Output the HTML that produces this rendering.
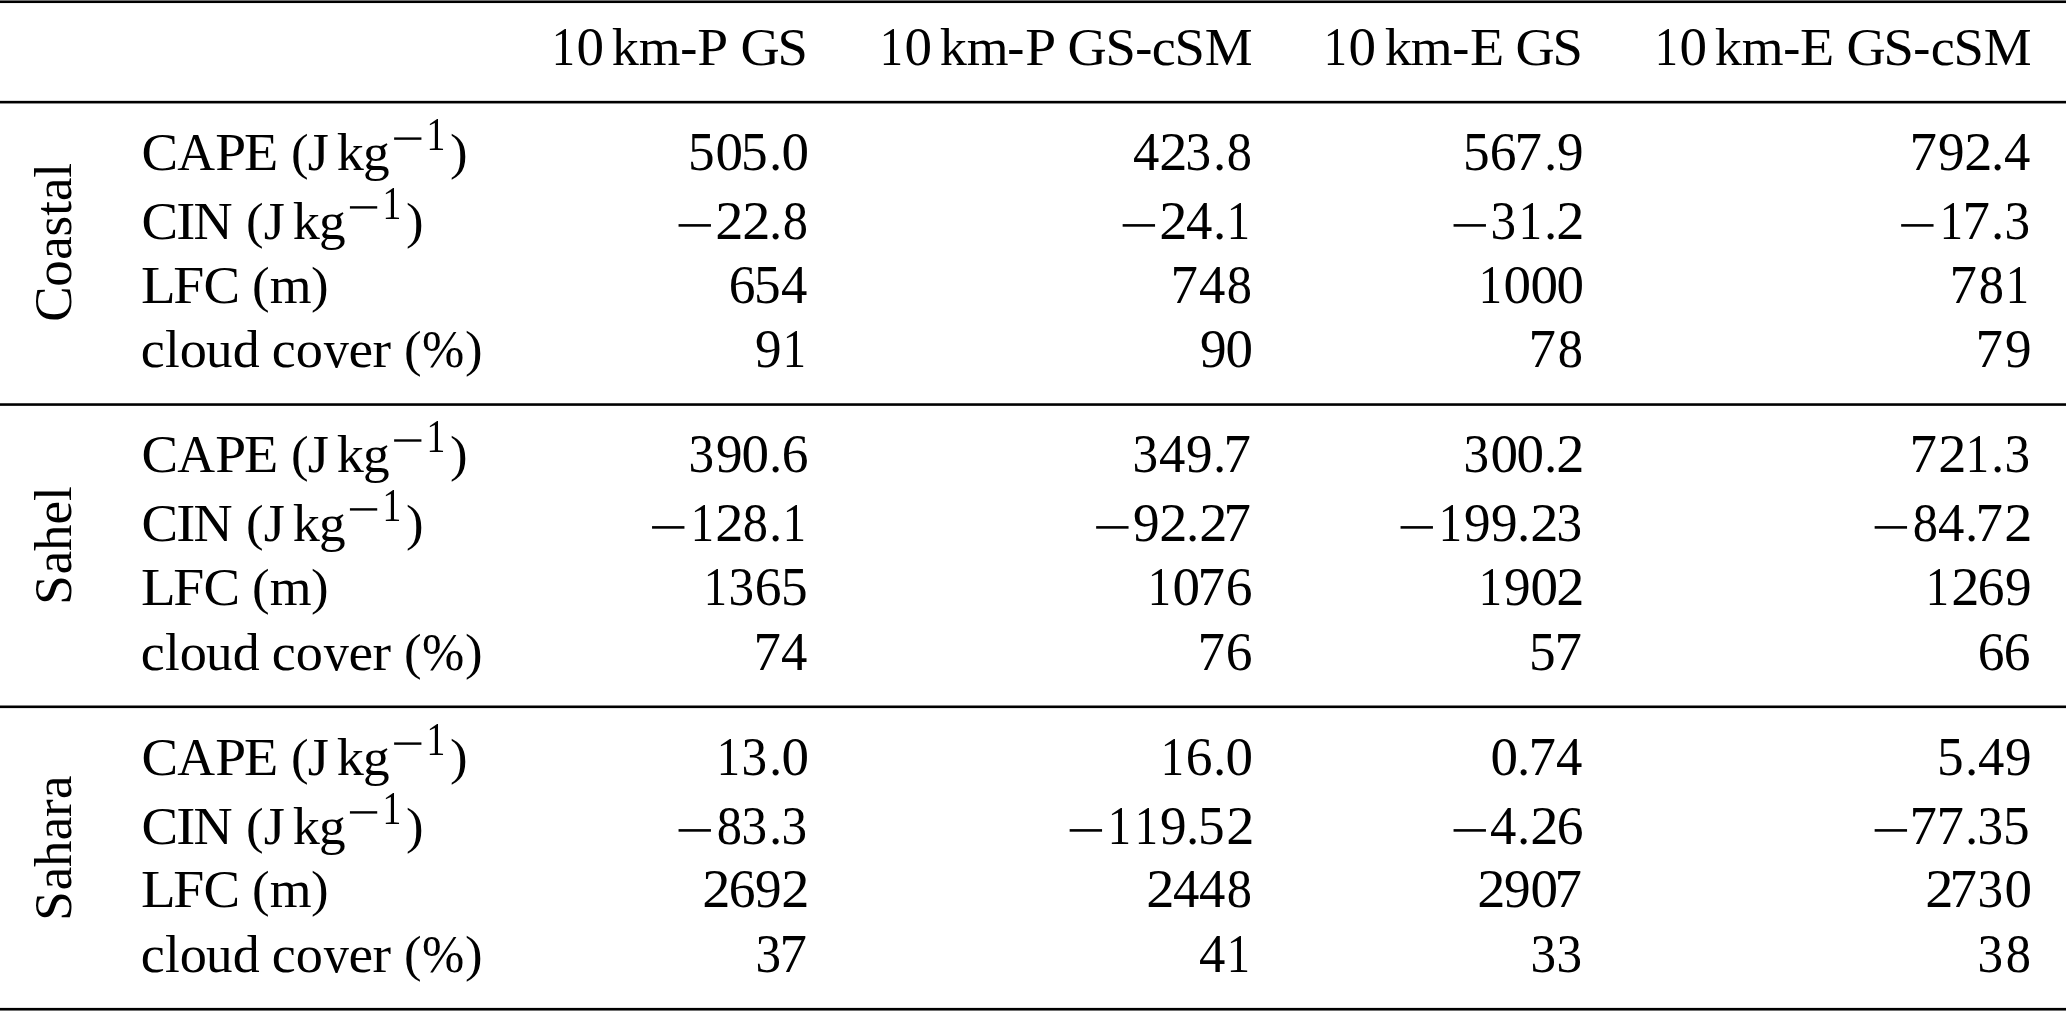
<!DOCTYPE html>
<html><head><meta charset="utf-8"><title>Table</title><style>
html,body{margin:0;padding:0;background:#fff;}
body{width:2067px;height:1011px;position:relative;overflow:hidden;}
#c{position:absolute;left:0;top:0;width:2067px;height:1011px;will-change:transform;}
#c svg{position:absolute;left:0;top:0;fill:#000;}
i{position:absolute;font-style:normal;font-family:"Liberation Serif",serif;font-size:53px;line-height:0;white-space:pre;color:#000;}
i.t{color:transparent;}
.rot{position:absolute;width:0;height:0;transform-origin:0 0;transform:rotate(-90deg);}
</style></head><body>
<div id="c">
<svg width="2067" height="1011" viewBox="0 0 2067 1011">
<rect x="0" y="0.45" width="2066" height="2.6"/>
<rect x="0" y="100.85" width="2066" height="2.6"/>
<rect x="0" y="403.25" width="2066" height="2.6"/>
<rect x="0" y="705.5" width="2066" height="2.6"/>
<rect x="0" y="1007.9" width="2066" height="2.65"/>
<rect x="394.12" y="137.4" width="27.3" height="2.4"/>
<rect x="349.92" y="206.2" width="27.3" height="2.4"/>
<rect x="678.55" y="224.1" width="32.4" height="2.6"/>
<rect x="1122.65" y="224.1" width="32.4" height="2.6"/>
<rect x="1453.55" y="224.1" width="32.4" height="2.6"/>
<rect x="1901.15" y="224.1" width="32.4" height="2.6"/>
<rect x="394.12" y="439.3" width="27.3" height="2.4"/>
<rect x="349.92" y="508.2" width="27.3" height="2.4"/>
<rect x="652.05" y="526.1" width="32.4" height="2.6"/>
<rect x="1096.15" y="526.1" width="32.4" height="2.6"/>
<rect x="1400.55" y="526.1" width="32.4" height="2.6"/>
<rect x="1874.65" y="526.1" width="32.4" height="2.6"/>
<rect x="394.12" y="742.4" width="27.3" height="2.4"/>
<rect x="349.92" y="811.2" width="27.3" height="2.4"/>
<rect x="678.55" y="829.1" width="32.4" height="2.6"/>
<rect x="1069.65" y="829.1" width="32.4" height="2.6"/>
<rect x="1453.55" y="829.1" width="32.4" height="2.6"/>
<rect x="1874.65" y="829.1" width="32.4" height="2.6"/>
</svg>
<div class="row">
<span class="cell"><i style="left:550.23px;top:46.8px;transform-origin:13.99px 18px;transform:scale(0.8772,1.0240)">1</i><i style="left:577.33px;top:46.8px;transform-origin:13.25px 18px;transform:scale(1.0394,1.0240)">0</i><i style="left:603.83px;top:46.8px"> </i><i style="left:612.48px;top:46.8px;transform-origin:13.75px 18px;transform:scale(1.0211,1.0000)">k</i><i style="left:639.37px;top:46.8px;transform-origin:20.75px 18px;transform:scale(1.0143,1.0000)">m</i><i style="left:680.13px;top:46.8px;transform-origin:8.85px 18px;transform:scale(0.9679,1.0000)">-</i><i style="left:698.39px;top:46.8px;transform-origin:14.44px 18px;transform:scale(1.0469,1.0000)">P</i><i style="left:727.52px;top:46.8px"> </i><i style="left:741.01px;top:46.8px;transform-origin:19.4px 18px;transform:scale(1.0248,1.0000)">G</i><i style="left:778.29px;top:46.8px;transform-origin:14.87px 18px;transform:scale(1.0302,1.0000)">S</i></span>
<span class="cell"><i style="left:877.56px;top:46.8px;transform-origin:13.99px 18px;transform:scale(0.8772,1.0240)">1</i><i style="left:904.67px;top:46.8px;transform-origin:13.25px 18px;transform:scale(1.0394,1.0240)">0</i><i style="left:931.17px;top:46.8px"> </i><i style="left:939.81px;top:46.8px;transform-origin:13.75px 18px;transform:scale(1.0211,1.0000)">k</i><i style="left:966.71px;top:46.8px;transform-origin:20.75px 18px;transform:scale(1.0143,1.0000)">m</i><i style="left:1007.47px;top:46.8px;transform-origin:8.85px 18px;transform:scale(0.9679,1.0000)">-</i><i style="left:1025.73px;top:46.8px;transform-origin:14.44px 18px;transform:scale(1.0469,1.0000)">P</i><i style="left:1054.85px;top:46.8px"> </i><i style="left:1068.34px;top:46.8px;transform-origin:19.4px 18px;transform:scale(1.0248,1.0000)">G</i><i style="left:1105.62px;top:46.8px;transform-origin:14.87px 18px;transform:scale(1.0302,1.0000)">S</i><i style="left:1134.57px;top:46.8px;transform-origin:8.85px 18px;transform:scale(0.9679,1.0000)">-</i><i style="left:1152.11px;top:46.8px;transform-origin:11.96px 18px;transform:scale(1.0191,1.0000)">c</i><i style="left:1175.27px;top:46.8px;transform-origin:14.87px 18px;transform:scale(1.0302,1.0000)">S</i><i style="left:1205.12px;top:46.8px;transform-origin:23.55px 18px;transform:scale(1.0143,1.0000)">M</i></span>
<span class="cell"><i style="left:1322.31px;top:46.8px;transform-origin:13.99px 18px;transform:scale(0.8772,1.0240)">1</i><i style="left:1349.42px;top:46.8px;transform-origin:13.25px 18px;transform:scale(1.0394,1.0240)">0</i><i style="left:1375.92px;top:46.8px"> </i><i style="left:1384.56px;top:46.8px;transform-origin:13.75px 18px;transform:scale(1.0211,1.0000)">k</i><i style="left:1411.46px;top:46.8px;transform-origin:20.75px 18px;transform:scale(1.0143,1.0000)">m</i><i style="left:1452.22px;top:46.8px;transform-origin:8.85px 18px;transform:scale(0.9679,1.0000)">-</i><i style="left:1470.64px;top:46.8px;transform-origin:15.63px 18px;transform:scale(1.0584,1.0000)">E</i><i style="left:1502.52px;top:46.8px"> </i><i style="left:1516.01px;top:46.8px;transform-origin:19.4px 18px;transform:scale(1.0248,1.0000)">G</i><i style="left:1553.29px;top:46.8px;transform-origin:14.87px 18px;transform:scale(1.0302,1.0000)">S</i></span>
<span class="cell"><i style="left:1653.15px;top:46.8px;transform-origin:13.99px 18px;transform:scale(0.8772,1.0240)">1</i><i style="left:1680.25px;top:46.8px;transform-origin:13.25px 18px;transform:scale(1.0394,1.0240)">0</i><i style="left:1706.75px;top:46.8px"> </i><i style="left:1715.4px;top:46.8px;transform-origin:13.75px 18px;transform:scale(1.0211,1.0000)">k</i><i style="left:1742.29px;top:46.8px;transform-origin:20.75px 18px;transform:scale(1.0143,1.0000)">m</i><i style="left:1783.05px;top:46.8px;transform-origin:8.85px 18px;transform:scale(0.9679,1.0000)">-</i><i style="left:1801.47px;top:46.8px;transform-origin:15.63px 18px;transform:scale(1.0584,1.0000)">E</i><i style="left:1833.35px;top:46.8px"> </i><i style="left:1846.84px;top:46.8px;transform-origin:19.4px 18px;transform:scale(1.0248,1.0000)">G</i><i style="left:1884.12px;top:46.8px;transform-origin:14.87px 18px;transform:scale(1.0302,1.0000)">S</i><i style="left:1913.07px;top:46.8px;transform-origin:8.85px 18px;transform:scale(0.9679,1.0000)">-</i><i style="left:1930.61px;top:46.8px;transform-origin:11.96px 18px;transform:scale(1.0191,1.0000)">c</i><i style="left:1953.77px;top:46.8px;transform-origin:14.87px 18px;transform:scale(1.0302,1.0000)">S</i><i style="left:1983.62px;top:46.8px;transform-origin:23.55px 18px;transform:scale(1.0143,1.0000)">M</i></span>
</div>
<div class="sec">
<span class="rot" style="left:71.45px;top:322.24px"><i style="left:0.22px;top:-18px">C</i><i style="left:35.32px;top:-18px">o</i><i style="left:62.21px;top:-18px">a</i><i style="left:85.51px;top:-18px">s</i><i style="left:106.27px;top:-18px">t</i><i style="left:121.1px;top:-18px">a</i><i style="left:144.22px;top:-18px">l</i></span>
<div class="row">
<span class="cell"><i style="left:141.82px;top:152px;transform-origin:17.3px 18px;transform:scale(1.0355,1.0000)">C</i><i style="left:176.86px;top:152px;transform-origin:19.2px 18px;transform:scale(0.9880,1.0000)">A</i><i style="left:215.56px;top:152px;transform-origin:14.44px 18px;transform:scale(1.0469,1.0000)">P</i><i style="left:245.19px;top:152px;transform-origin:15.63px 18px;transform:scale(1.0584,1.0000)">E</i><i style="left:277.07px;top:152px"> </i><i style="left:290.51px;top:152px;transform-origin:9.14px 5.25px;transform:scale(0.9980,0.9400)">(</i><i style="left:307.72px;top:152px;transform-origin:10.31px 18px;transform:scale(1.0220,1.0000)">J</i><i style="left:328.58px;top:152px"> </i><i style="left:337.23px;top:152px;transform-origin:13.75px 18px;transform:scale(1.0211,1.0000)">k</i><i style="left:363.23px;top:152px;transform-origin:13.88px 18px;transform:scale(1.0055,1.0000)">g</i><i class="t" style="left:394.12px;top:133.75px;font-size:47px">−</i><i style="left:424.06px;top:133.75px;font-size:47px;transform-origin:12.4px 16px;transform:scale(0.8000,1.0000)">1</i><i style="left:449.87px;top:152px;transform-origin:8.51px 5.25px;transform:scale(0.9980,0.9400)">)</i></span>
<span class="cell"><i style="left:687.95px;top:152px;transform-origin:13.75px 18px;transform:scale(1.0047,1.0240)">5</i><i style="left:715.75px;top:152px;transform-origin:13.25px 18px;transform:scale(1.0394,1.0240)">0</i><i style="left:740.95px;top:152px;transform-origin:13.75px 18px;transform:scale(1.0047,1.0240)">5</i><i style="left:768.78px;top:152px;transform-origin:6.62px 18px;transform:scale(0.9632,1.0000)">.</i><i style="left:782px;top:152px;transform-origin:13.25px 18px;transform:scale(1.0394,1.0240)">0</i></span>
<span class="cell"><i style="left:1132.82px;top:152px;transform-origin:13.35px 18px;transform:scale(0.9937,1.0240)">4</i><i style="left:1160.28px;top:152px;transform-origin:12.95px 18px;transform:scale(1.0647,1.0240)">2</i><i style="left:1185.45px;top:152px;transform-origin:13.48px 18px;transform:scale(0.9646,1.0240)">3</i><i style="left:1212.88px;top:152px;transform-origin:6.62px 18px;transform:scale(0.9632,1.0000)">.</i><i style="left:1226.13px;top:152px;transform-origin:13.25px 18px;transform:scale(0.9499,1.0240)">8</i></span>
<span class="cell"><i style="left:1462.95px;top:152px;transform-origin:13.75px 18px;transform:scale(1.0047,1.0240)">5</i><i style="left:1490.45px;top:152px;transform-origin:13.6px 18px;transform:scale(1.0095,1.0240)">6</i><i style="left:1515.45px;top:152px;transform-origin:14.23px 18px;transform:scale(1.0347,1.0240)">7</i><i style="left:1543.78px;top:152px;transform-origin:6.62px 18px;transform:scale(0.9632,1.0000)">.</i><i style="left:1556.94px;top:152px;transform-origin:13.02px 18px;transform:scale(1.0031,1.0240)">9</i></span>
<span class="cell"><i style="left:1910.05px;top:152px;transform-origin:14.23px 18px;transform:scale(1.0347,1.0240)">7</i><i style="left:1938.29px;top:152px;transform-origin:13.02px 18px;transform:scale(1.0031,1.0240)">9</i><i style="left:1965.28px;top:152px;transform-origin:12.95px 18px;transform:scale(1.0647,1.0240)">2</i><i style="left:1991.38px;top:152px;transform-origin:6.62px 18px;transform:scale(0.9632,1.0000)">.</i><i style="left:2004.07px;top:152px;transform-origin:13.35px 18px;transform:scale(0.9937,1.0240)">4</i></span>
</div>
<div class="row">
<span class="cell"><i style="left:141.82px;top:220.8px;transform-origin:17.3px 18px;transform:scale(1.0355,1.0000)">C</i><i style="left:176.92px;top:220.8px;transform-origin:8.85px 18px;transform:scale(1.0788,1.0000)">I</i><i style="left:194.36px;top:220.8px;transform-origin:19.29px 18px;transform:scale(1.0218,1.0000)">N</i><i style="left:232.87px;top:220.8px"> </i><i style="left:246.31px;top:220.8px;transform-origin:9.14px 5.25px;transform:scale(0.9980,0.9400)">(</i><i style="left:263.52px;top:220.8px;transform-origin:10.31px 18px;transform:scale(1.0220,1.0000)">J</i><i style="left:284.38px;top:220.8px"> </i><i style="left:293.03px;top:220.8px;transform-origin:13.75px 18px;transform:scale(1.0211,1.0000)">k</i><i style="left:319.03px;top:220.8px;transform-origin:13.88px 18px;transform:scale(1.0055,1.0000)">g</i><i class="t" style="left:349.92px;top:202.55px;font-size:47px">−</i><i style="left:379.86px;top:202.55px;font-size:47px;transform-origin:12.4px 16px;transform:scale(0.8000,1.0000)">1</i><i style="left:405.67px;top:220.8px;transform-origin:8.51px 5.25px;transform:scale(0.9980,0.9400)">)</i></span>
<span class="cell"><i class="t" style="left:678.55px;top:220.8px">−</i><i style="left:716.18px;top:220.8px;transform-origin:12.95px 18px;transform:scale(1.0647,1.0240)">2</i><i style="left:742.68px;top:220.8px;transform-origin:12.95px 18px;transform:scale(1.0647,1.0240)">2</i><i style="left:768.78px;top:220.8px;transform-origin:6.62px 18px;transform:scale(0.9632,1.0000)">.</i><i style="left:782.03px;top:220.8px;transform-origin:13.25px 18px;transform:scale(0.9499,1.0240)">8</i></span>
<span class="cell"><i class="t" style="left:1122.65px;top:220.8px">−</i><i style="left:1160.28px;top:220.8px;transform-origin:12.95px 18px;transform:scale(1.0647,1.0240)">2</i><i style="left:1185.82px;top:220.8px;transform-origin:13.35px 18px;transform:scale(0.9937,1.0240)">4</i><i style="left:1212.88px;top:220.8px;transform-origin:6.62px 18px;transform:scale(0.9632,1.0000)">.</i><i style="left:1225.49px;top:220.8px;transform-origin:13.99px 18px;transform:scale(0.8772,1.0240)">1</i></span>
<span class="cell"><i class="t" style="left:1453.55px;top:220.8px">−</i><i style="left:1489.85px;top:220.8px;transform-origin:13.48px 18px;transform:scale(0.9646,1.0240)">3</i><i style="left:1516.64px;top:220.8px;transform-origin:13.99px 18px;transform:scale(0.8772,1.0240)">1</i><i style="left:1543.78px;top:220.8px;transform-origin:6.62px 18px;transform:scale(0.9632,1.0000)">.</i><i style="left:1557.43px;top:220.8px;transform-origin:12.95px 18px;transform:scale(1.0647,1.0240)">2</i></span>
<span class="cell"><i class="t" style="left:1901.15px;top:220.8px">−</i><i style="left:1937.74px;top:220.8px;transform-origin:13.99px 18px;transform:scale(0.8772,1.0240)">1</i><i style="left:1963.05px;top:220.8px;transform-origin:14.23px 18px;transform:scale(1.0347,1.0240)">7</i><i style="left:1991.38px;top:220.8px;transform-origin:6.62px 18px;transform:scale(0.9632,1.0000)">.</i><i style="left:2003.7px;top:220.8px;transform-origin:13.48px 18px;transform:scale(0.9646,1.0240)">3</i></span>
</div>
<div class="row">
<span class="cell"><i style="left:142.41px;top:284.5px;transform-origin:15.36px 18px;transform:scale(1.0719,1.0000)">L</i><i style="left:174.23px;top:284.5px;transform-origin:14.54px 18px;transform:scale(1.0514,1.0000)">F</i><i style="left:203.67px;top:284.5px;transform-origin:17.3px 18px;transform:scale(1.0355,1.0000)">C</i><i style="left:238.8px;top:284.5px"> </i><i style="left:252.24px;top:284.5px;transform-origin:9.14px 5.25px;transform:scale(0.9980,0.9400)">(</i><i style="left:269.91px;top:284.5px;transform-origin:20.75px 18px;transform:scale(1.0143,1.0000)">m</i><i style="left:310.74px;top:284.5px;transform-origin:8.51px 5.25px;transform:scale(0.9980,0.9400)">)</i></span>
<span class="cell"><i style="left:728.7px;top:284.5px;transform-origin:13.6px 18px;transform:scale(1.0095,1.0240)">6</i><i style="left:754.2px;top:284.5px;transform-origin:13.75px 18px;transform:scale(1.0047,1.0240)">5</i><i style="left:781.47px;top:284.5px;transform-origin:13.35px 18px;transform:scale(0.9937,1.0240)">4</i></span>
<span class="cell"><i style="left:1171.3px;top:284.5px;transform-origin:14.23px 18px;transform:scale(1.0347,1.0240)">7</i><i style="left:1199.07px;top:284.5px;transform-origin:13.35px 18px;transform:scale(0.9937,1.0240)">4</i><i style="left:1226.13px;top:284.5px;transform-origin:13.25px 18px;transform:scale(0.9499,1.0240)">8</i></span>
<span class="cell"><i style="left:1476.89px;top:284.5px;transform-origin:13.99px 18px;transform:scale(0.8772,1.0240)">1</i><i style="left:1504px;top:284.5px;transform-origin:13.25px 18px;transform:scale(1.0394,1.0240)">0</i><i style="left:1530.5px;top:284.5px;transform-origin:13.25px 18px;transform:scale(1.0394,1.0240)">0</i><i style="left:1557px;top:284.5px;transform-origin:13.25px 18px;transform:scale(1.0394,1.0240)">0</i></span>
<span class="cell"><i style="left:1949.8px;top:284.5px;transform-origin:14.23px 18px;transform:scale(1.0347,1.0240)">7</i><i style="left:1978.13px;top:284.5px;transform-origin:13.25px 18px;transform:scale(0.9499,1.0240)">8</i><i style="left:2003.99px;top:284.5px;transform-origin:13.99px 18px;transform:scale(0.8772,1.0240)">1</i></span>
</div>
<div class="row">
<span class="cell"><i style="left:141.22px;top:349.2px;transform-origin:11.96px 18px;transform:scale(1.0191,1.0000)">c</i><i style="left:165.08px;top:349.2px;transform-origin:7.36px 18px;transform:scale(1.0005,1.0000)">l</i><i style="left:179.84px;top:349.2px;transform-origin:13.25px 18px;transform:scale(1.0241,1.0000)">o</i><i style="left:206.15px;top:349.2px;transform-origin:13.15px 18px;transform:scale(1.0003,1.0000)">u</i><i style="left:232.71px;top:349.2px;transform-origin:13.88px 18px;transform:scale(1.0163,1.0000)">d</i><i style="left:259.37px;top:349.2px"> </i><i style="left:272.24px;top:349.2px;transform-origin:11.96px 18px;transform:scale(1.0191,1.0000)">c</i><i style="left:296.12px;top:349.2px;transform-origin:13.25px 18px;transform:scale(1.0241,1.0000)">o</i><i style="left:322.54px;top:349.2px;transform-origin:13.25px 18px;transform:scale(0.9487,1.0000)">v</i><i style="left:349.17px;top:349.2px;transform-origin:11.88px 18px;transform:scale(1.0461,1.0000)">e</i><i style="left:372.57px;top:349.2px;transform-origin:9.12px 18px;transform:scale(1.0501,1.0000)">r</i><i style="left:390.33px;top:349.2px"> </i><i style="left:403.77px;top:349.2px;transform-origin:9.14px 5.25px;transform:scale(0.9980,0.9400)">(</i><i style="left:421.23px;top:349.2px;transform-origin:22.07px 18px;transform:scale(0.9573,1.0000)">%</i><i style="left:465.18px;top:349.2px;transform-origin:8.51px 5.25px;transform:scale(0.9980,0.9400)">)</i></span>
<span class="cell"><i style="left:755.44px;top:349.2px;transform-origin:13.02px 18px;transform:scale(1.0031,1.0240)">9</i><i style="left:781.39px;top:349.2px;transform-origin:13.99px 18px;transform:scale(0.8772,1.0240)">1</i></span>
<span class="cell"><i style="left:1199.54px;top:349.2px;transform-origin:13.02px 18px;transform:scale(1.0031,1.0240)">9</i><i style="left:1226.1px;top:349.2px;transform-origin:13.25px 18px;transform:scale(1.0394,1.0240)">0</i></span>
<span class="cell"><i style="left:1528.7px;top:349.2px;transform-origin:14.23px 18px;transform:scale(1.0347,1.0240)">7</i><i style="left:1557.03px;top:349.2px;transform-origin:13.25px 18px;transform:scale(0.9499,1.0240)">8</i></span>
<span class="cell"><i style="left:1976.3px;top:349.2px;transform-origin:14.23px 18px;transform:scale(1.0347,1.0240)">7</i><i style="left:2004.54px;top:349.2px;transform-origin:13.02px 18px;transform:scale(1.0031,1.0240)">9</i></span>
</div>
</div>
<div class="sec">
<span class="rot" style="left:71.45px;top:604.34px"><i style="left:-0.74px;top:-18px">S</i><i style="left:29.83px;top:-18px">a</i><i style="left:52.98px;top:-18px">h</i><i style="left:79.52px;top:-18px">e</i><i style="left:102.98px;top:-18px">l</i></span>
<div class="row">
<span class="cell"><i style="left:141.82px;top:453.9px;transform-origin:17.3px 18px;transform:scale(1.0355,1.0000)">C</i><i style="left:176.86px;top:453.9px;transform-origin:19.2px 18px;transform:scale(0.9880,1.0000)">A</i><i style="left:215.56px;top:453.9px;transform-origin:14.44px 18px;transform:scale(1.0469,1.0000)">P</i><i style="left:245.19px;top:453.9px;transform-origin:15.63px 18px;transform:scale(1.0584,1.0000)">E</i><i style="left:277.07px;top:453.9px"> </i><i style="left:290.51px;top:453.9px;transform-origin:9.14px 5.25px;transform:scale(0.9980,0.9400)">(</i><i style="left:307.72px;top:453.9px;transform-origin:10.31px 18px;transform:scale(1.0220,1.0000)">J</i><i style="left:328.58px;top:453.9px"> </i><i style="left:337.23px;top:453.9px;transform-origin:13.75px 18px;transform:scale(1.0211,1.0000)">k</i><i style="left:363.23px;top:453.9px;transform-origin:13.88px 18px;transform:scale(1.0055,1.0000)">g</i><i class="t" style="left:394.12px;top:435.65px;font-size:47px">−</i><i style="left:424.06px;top:435.65px;font-size:47px;transform-origin:12.4px 16px;transform:scale(0.8000,1.0000)">1</i><i style="left:449.87px;top:453.9px;transform-origin:8.51px 5.25px;transform:scale(0.9980,0.9400)">)</i></span>
<span class="cell"><i style="left:688.35px;top:453.9px;transform-origin:13.48px 18px;transform:scale(0.9646,1.0240)">3</i><i style="left:715.69px;top:453.9px;transform-origin:13.02px 18px;transform:scale(1.0031,1.0240)">9</i><i style="left:742.25px;top:453.9px;transform-origin:13.25px 18px;transform:scale(1.0394,1.0240)">0</i><i style="left:768.78px;top:453.9px;transform-origin:6.62px 18px;transform:scale(0.9632,1.0000)">.</i><i style="left:781.7px;top:453.9px;transform-origin:13.6px 18px;transform:scale(1.0095,1.0240)">6</i></span>
<span class="cell"><i style="left:1132.45px;top:453.9px;transform-origin:13.48px 18px;transform:scale(0.9646,1.0240)">3</i><i style="left:1159.32px;top:453.9px;transform-origin:13.35px 18px;transform:scale(0.9937,1.0240)">4</i><i style="left:1186.29px;top:453.9px;transform-origin:13.02px 18px;transform:scale(1.0031,1.0240)">9</i><i style="left:1212.88px;top:453.9px;transform-origin:6.62px 18px;transform:scale(0.9632,1.0000)">.</i><i style="left:1224.3px;top:453.9px;transform-origin:14.23px 18px;transform:scale(1.0347,1.0240)">7</i></span>
<span class="cell"><i style="left:1463.35px;top:453.9px;transform-origin:13.48px 18px;transform:scale(0.9646,1.0240)">3</i><i style="left:1490.75px;top:453.9px;transform-origin:13.25px 18px;transform:scale(1.0394,1.0240)">0</i><i style="left:1517.25px;top:453.9px;transform-origin:13.25px 18px;transform:scale(1.0394,1.0240)">0</i><i style="left:1543.78px;top:453.9px;transform-origin:6.62px 18px;transform:scale(0.9632,1.0000)">.</i><i style="left:1557.43px;top:453.9px;transform-origin:12.95px 18px;transform:scale(1.0647,1.0240)">2</i></span>
<span class="cell"><i style="left:1910.05px;top:453.9px;transform-origin:14.23px 18px;transform:scale(1.0347,1.0240)">7</i><i style="left:1938.78px;top:453.9px;transform-origin:12.95px 18px;transform:scale(1.0647,1.0240)">2</i><i style="left:1964.24px;top:453.9px;transform-origin:13.99px 18px;transform:scale(0.8772,1.0240)">1</i><i style="left:1991.38px;top:453.9px;transform-origin:6.62px 18px;transform:scale(0.9632,1.0000)">.</i><i style="left:2003.7px;top:453.9px;transform-origin:13.48px 18px;transform:scale(0.9646,1.0240)">3</i></span>
</div>
<div class="row">
<span class="cell"><i style="left:141.82px;top:522.8px;transform-origin:17.3px 18px;transform:scale(1.0355,1.0000)">C</i><i style="left:176.92px;top:522.8px;transform-origin:8.85px 18px;transform:scale(1.0788,1.0000)">I</i><i style="left:194.36px;top:522.8px;transform-origin:19.29px 18px;transform:scale(1.0218,1.0000)">N</i><i style="left:232.87px;top:522.8px"> </i><i style="left:246.31px;top:522.8px;transform-origin:9.14px 5.25px;transform:scale(0.9980,0.9400)">(</i><i style="left:263.52px;top:522.8px;transform-origin:10.31px 18px;transform:scale(1.0220,1.0000)">J</i><i style="left:284.38px;top:522.8px"> </i><i style="left:293.03px;top:522.8px;transform-origin:13.75px 18px;transform:scale(1.0211,1.0000)">k</i><i style="left:319.03px;top:522.8px;transform-origin:13.88px 18px;transform:scale(1.0055,1.0000)">g</i><i class="t" style="left:349.92px;top:504.55px;font-size:47px">−</i><i style="left:379.86px;top:504.55px;font-size:47px;transform-origin:12.4px 16px;transform:scale(0.8000,1.0000)">1</i><i style="left:405.67px;top:522.8px;transform-origin:8.51px 5.25px;transform:scale(0.9980,0.9400)">)</i></span>
<span class="cell"><i class="t" style="left:652.05px;top:522.8px">−</i><i style="left:688.64px;top:522.8px;transform-origin:13.99px 18px;transform:scale(0.8772,1.0240)">1</i><i style="left:716.18px;top:522.8px;transform-origin:12.95px 18px;transform:scale(1.0647,1.0240)">2</i><i style="left:742.28px;top:522.8px;transform-origin:13.25px 18px;transform:scale(0.9499,1.0240)">8</i><i style="left:768.78px;top:522.8px;transform-origin:6.62px 18px;transform:scale(0.9632,1.0000)">.</i><i style="left:781.39px;top:522.8px;transform-origin:13.99px 18px;transform:scale(0.8772,1.0240)">1</i></span>
<span class="cell"><i class="t" style="left:1096.15px;top:522.8px">−</i><i style="left:1133.29px;top:522.8px;transform-origin:13.02px 18px;transform:scale(1.0031,1.0240)">9</i><i style="left:1160.28px;top:522.8px;transform-origin:12.95px 18px;transform:scale(1.0647,1.0240)">2</i><i style="left:1186.38px;top:522.8px;transform-origin:6.62px 18px;transform:scale(0.9632,1.0000)">.</i><i style="left:1200.03px;top:522.8px;transform-origin:12.95px 18px;transform:scale(1.0647,1.0240)">2</i><i style="left:1224.3px;top:522.8px;transform-origin:14.23px 18px;transform:scale(1.0347,1.0240)">7</i></span>
<span class="cell"><i class="t" style="left:1400.55px;top:522.8px">−</i><i style="left:1437.14px;top:522.8px;transform-origin:13.99px 18px;transform:scale(0.8772,1.0240)">1</i><i style="left:1464.19px;top:522.8px;transform-origin:13.02px 18px;transform:scale(1.0031,1.0240)">9</i><i style="left:1490.69px;top:522.8px;transform-origin:13.02px 18px;transform:scale(1.0031,1.0240)">9</i><i style="left:1517.28px;top:522.8px;transform-origin:6.62px 18px;transform:scale(0.9632,1.0000)">.</i><i style="left:1530.93px;top:522.8px;transform-origin:12.95px 18px;transform:scale(1.0647,1.0240)">2</i><i style="left:1556.1px;top:522.8px;transform-origin:13.48px 18px;transform:scale(0.9646,1.0240)">3</i></span>
<span class="cell"><i class="t" style="left:1874.65px;top:522.8px">−</i><i style="left:1911.88px;top:522.8px;transform-origin:13.25px 18px;transform:scale(0.9499,1.0240)">8</i><i style="left:1937.82px;top:522.8px;transform-origin:13.35px 18px;transform:scale(0.9937,1.0240)">4</i><i style="left:1964.88px;top:522.8px;transform-origin:6.62px 18px;transform:scale(0.9632,1.0000)">.</i><i style="left:1976.3px;top:522.8px;transform-origin:14.23px 18px;transform:scale(1.0347,1.0240)">7</i><i style="left:2005.03px;top:522.8px;transform-origin:12.95px 18px;transform:scale(1.0647,1.0240)">2</i></span>
</div>
<div class="row">
<span class="cell"><i style="left:142.41px;top:586.8px;transform-origin:15.36px 18px;transform:scale(1.0719,1.0000)">L</i><i style="left:174.23px;top:586.8px;transform-origin:14.54px 18px;transform:scale(1.0514,1.0000)">F</i><i style="left:203.67px;top:586.8px;transform-origin:17.3px 18px;transform:scale(1.0355,1.0000)">C</i><i style="left:238.8px;top:586.8px"> </i><i style="left:252.24px;top:586.8px;transform-origin:9.14px 5.25px;transform:scale(0.9980,0.9400)">(</i><i style="left:269.91px;top:586.8px;transform-origin:20.75px 18px;transform:scale(1.0143,1.0000)">m</i><i style="left:310.74px;top:586.8px;transform-origin:8.51px 5.25px;transform:scale(0.9980,0.9400)">)</i></span>
<span class="cell"><i style="left:701.89px;top:586.8px;transform-origin:13.99px 18px;transform:scale(0.8772,1.0240)">1</i><i style="left:728.1px;top:586.8px;transform-origin:13.48px 18px;transform:scale(0.9646,1.0240)">3</i><i style="left:755.2px;top:586.8px;transform-origin:13.6px 18px;transform:scale(1.0095,1.0240)">6</i><i style="left:780.7px;top:586.8px;transform-origin:13.75px 18px;transform:scale(1.0047,1.0240)">5</i></span>
<span class="cell"><i style="left:1145.99px;top:586.8px;transform-origin:13.99px 18px;transform:scale(0.8772,1.0240)">1</i><i style="left:1173.1px;top:586.8px;transform-origin:13.25px 18px;transform:scale(1.0394,1.0240)">0</i><i style="left:1197.8px;top:586.8px;transform-origin:14.23px 18px;transform:scale(1.0347,1.0240)">7</i><i style="left:1225.8px;top:586.8px;transform-origin:13.6px 18px;transform:scale(1.0095,1.0240)">6</i></span>
<span class="cell"><i style="left:1476.89px;top:586.8px;transform-origin:13.99px 18px;transform:scale(0.8772,1.0240)">1</i><i style="left:1503.94px;top:586.8px;transform-origin:13.02px 18px;transform:scale(1.0031,1.0240)">9</i><i style="left:1530.5px;top:586.8px;transform-origin:13.25px 18px;transform:scale(1.0394,1.0240)">0</i><i style="left:1557.43px;top:586.8px;transform-origin:12.95px 18px;transform:scale(1.0647,1.0240)">2</i></span>
<span class="cell"><i style="left:1924.49px;top:586.8px;transform-origin:13.99px 18px;transform:scale(0.8772,1.0240)">1</i><i style="left:1952.03px;top:586.8px;transform-origin:12.95px 18px;transform:scale(1.0647,1.0240)">2</i><i style="left:1977.8px;top:586.8px;transform-origin:13.6px 18px;transform:scale(1.0095,1.0240)">6</i><i style="left:2004.54px;top:586.8px;transform-origin:13.02px 18px;transform:scale(1.0031,1.0240)">9</i></span>
</div>
<div class="row">
<span class="cell"><i style="left:141.22px;top:651.5px;transform-origin:11.96px 18px;transform:scale(1.0191,1.0000)">c</i><i style="left:165.08px;top:651.5px;transform-origin:7.36px 18px;transform:scale(1.0005,1.0000)">l</i><i style="left:179.84px;top:651.5px;transform-origin:13.25px 18px;transform:scale(1.0241,1.0000)">o</i><i style="left:206.15px;top:651.5px;transform-origin:13.15px 18px;transform:scale(1.0003,1.0000)">u</i><i style="left:232.71px;top:651.5px;transform-origin:13.88px 18px;transform:scale(1.0163,1.0000)">d</i><i style="left:259.37px;top:651.5px"> </i><i style="left:272.24px;top:651.5px;transform-origin:11.96px 18px;transform:scale(1.0191,1.0000)">c</i><i style="left:296.12px;top:651.5px;transform-origin:13.25px 18px;transform:scale(1.0241,1.0000)">o</i><i style="left:322.54px;top:651.5px;transform-origin:13.25px 18px;transform:scale(0.9487,1.0000)">v</i><i style="left:349.17px;top:651.5px;transform-origin:11.88px 18px;transform:scale(1.0461,1.0000)">e</i><i style="left:372.57px;top:651.5px;transform-origin:9.12px 18px;transform:scale(1.0501,1.0000)">r</i><i style="left:390.33px;top:651.5px"> </i><i style="left:403.77px;top:651.5px;transform-origin:9.14px 5.25px;transform:scale(0.9980,0.9400)">(</i><i style="left:421.23px;top:651.5px;transform-origin:22.07px 18px;transform:scale(0.9573,1.0000)">%</i><i style="left:465.18px;top:651.5px;transform-origin:8.51px 5.25px;transform:scale(0.9980,0.9400)">)</i></span>
<span class="cell"><i style="left:753.7px;top:651.5px;transform-origin:14.23px 18px;transform:scale(1.0347,1.0240)">7</i><i style="left:781.47px;top:651.5px;transform-origin:13.35px 18px;transform:scale(0.9937,1.0240)">4</i></span>
<span class="cell"><i style="left:1197.8px;top:651.5px;transform-origin:14.23px 18px;transform:scale(1.0347,1.0240)">7</i><i style="left:1225.8px;top:651.5px;transform-origin:13.6px 18px;transform:scale(1.0095,1.0240)">6</i></span>
<span class="cell"><i style="left:1529.2px;top:651.5px;transform-origin:13.75px 18px;transform:scale(1.0047,1.0240)">5</i><i style="left:1555.2px;top:651.5px;transform-origin:14.23px 18px;transform:scale(1.0347,1.0240)">7</i></span>
<span class="cell"><i style="left:1977.8px;top:651.5px;transform-origin:13.6px 18px;transform:scale(1.0095,1.0240)">6</i><i style="left:2004.3px;top:651.5px;transform-origin:13.6px 18px;transform:scale(1.0095,1.0240)">6</i></span>
</div>
</div>
<div class="sec">
<span class="rot" style="left:71.45px;top:919.77px"><i style="left:-0.74px;top:-18px">S</i><i style="left:29.83px;top:-18px">a</i><i style="left:52.98px;top:-18px">h</i><i style="left:79.86px;top:-18px">a</i><i style="left:102.92px;top:-18px">r</i><i style="left:121.04px;top:-18px">a</i></span>
<div class="row">
<span class="cell"><i style="left:141.82px;top:757px;transform-origin:17.3px 18px;transform:scale(1.0355,1.0000)">C</i><i style="left:176.86px;top:757px;transform-origin:19.2px 18px;transform:scale(0.9880,1.0000)">A</i><i style="left:215.56px;top:757px;transform-origin:14.44px 18px;transform:scale(1.0469,1.0000)">P</i><i style="left:245.19px;top:757px;transform-origin:15.63px 18px;transform:scale(1.0584,1.0000)">E</i><i style="left:277.07px;top:757px"> </i><i style="left:290.51px;top:757px;transform-origin:9.14px 5.25px;transform:scale(0.9980,0.9400)">(</i><i style="left:307.72px;top:757px;transform-origin:10.31px 18px;transform:scale(1.0220,1.0000)">J</i><i style="left:328.58px;top:757px"> </i><i style="left:337.23px;top:757px;transform-origin:13.75px 18px;transform:scale(1.0211,1.0000)">k</i><i style="left:363.23px;top:757px;transform-origin:13.88px 18px;transform:scale(1.0055,1.0000)">g</i><i class="t" style="left:394.12px;top:738.75px;font-size:47px">−</i><i style="left:424.06px;top:738.75px;font-size:47px;transform-origin:12.4px 16px;transform:scale(0.8000,1.0000)">1</i><i style="left:449.87px;top:757px;transform-origin:8.51px 5.25px;transform:scale(0.9980,0.9400)">)</i></span>
<span class="cell"><i style="left:715.14px;top:757px;transform-origin:13.99px 18px;transform:scale(0.8772,1.0240)">1</i><i style="left:741.35px;top:757px;transform-origin:13.48px 18px;transform:scale(0.9646,1.0240)">3</i><i style="left:768.78px;top:757px;transform-origin:6.62px 18px;transform:scale(0.9632,1.0000)">.</i><i style="left:782px;top:757px;transform-origin:13.25px 18px;transform:scale(1.0394,1.0240)">0</i></span>
<span class="cell"><i style="left:1159.24px;top:757px;transform-origin:13.99px 18px;transform:scale(0.8772,1.0240)">1</i><i style="left:1186.05px;top:757px;transform-origin:13.6px 18px;transform:scale(1.0095,1.0240)">6</i><i style="left:1212.88px;top:757px;transform-origin:6.62px 18px;transform:scale(0.9632,1.0000)">.</i><i style="left:1226.1px;top:757px;transform-origin:13.25px 18px;transform:scale(1.0394,1.0240)">0</i></span>
<span class="cell"><i style="left:1490.75px;top:757px;transform-origin:13.25px 18px;transform:scale(1.0394,1.0240)">0</i><i style="left:1517.28px;top:757px;transform-origin:6.62px 18px;transform:scale(0.9632,1.0000)">.</i><i style="left:1528.7px;top:757px;transform-origin:14.23px 18px;transform:scale(1.0347,1.0240)">7</i><i style="left:1556.47px;top:757px;transform-origin:13.35px 18px;transform:scale(0.9937,1.0240)">4</i></span>
<span class="cell"><i style="left:1937.05px;top:757px;transform-origin:13.75px 18px;transform:scale(1.0047,1.0240)">5</i><i style="left:1964.88px;top:757px;transform-origin:6.62px 18px;transform:scale(0.9632,1.0000)">.</i><i style="left:1977.57px;top:757px;transform-origin:13.35px 18px;transform:scale(0.9937,1.0240)">4</i><i style="left:2004.54px;top:757px;transform-origin:13.02px 18px;transform:scale(1.0031,1.0240)">9</i></span>
</div>
<div class="row">
<span class="cell"><i style="left:141.82px;top:825.8px;transform-origin:17.3px 18px;transform:scale(1.0355,1.0000)">C</i><i style="left:176.92px;top:825.8px;transform-origin:8.85px 18px;transform:scale(1.0788,1.0000)">I</i><i style="left:194.36px;top:825.8px;transform-origin:19.29px 18px;transform:scale(1.0218,1.0000)">N</i><i style="left:232.87px;top:825.8px"> </i><i style="left:246.31px;top:825.8px;transform-origin:9.14px 5.25px;transform:scale(0.9980,0.9400)">(</i><i style="left:263.52px;top:825.8px;transform-origin:10.31px 18px;transform:scale(1.0220,1.0000)">J</i><i style="left:284.38px;top:825.8px"> </i><i style="left:293.03px;top:825.8px;transform-origin:13.75px 18px;transform:scale(1.0211,1.0000)">k</i><i style="left:319.03px;top:825.8px;transform-origin:13.88px 18px;transform:scale(1.0055,1.0000)">g</i><i class="t" style="left:349.92px;top:807.55px;font-size:47px">−</i><i style="left:379.86px;top:807.55px;font-size:47px;transform-origin:12.4px 16px;transform:scale(0.8000,1.0000)">1</i><i style="left:405.67px;top:825.8px;transform-origin:8.51px 5.25px;transform:scale(0.9980,0.9400)">)</i></span>
<span class="cell"><i class="t" style="left:678.55px;top:825.8px">−</i><i style="left:715.78px;top:825.8px;transform-origin:13.25px 18px;transform:scale(0.9499,1.0240)">8</i><i style="left:741.35px;top:825.8px;transform-origin:13.48px 18px;transform:scale(0.9646,1.0240)">3</i><i style="left:768.78px;top:825.8px;transform-origin:6.62px 18px;transform:scale(0.9632,1.0000)">.</i><i style="left:781.1px;top:825.8px;transform-origin:13.48px 18px;transform:scale(0.9646,1.0240)">3</i></span>
<span class="cell"><i class="t" style="left:1069.65px;top:825.8px">−</i><i style="left:1106.24px;top:825.8px;transform-origin:13.99px 18px;transform:scale(0.8772,1.0240)">1</i><i style="left:1132.74px;top:825.8px;transform-origin:13.99px 18px;transform:scale(0.8772,1.0240)">1</i><i style="left:1159.79px;top:825.8px;transform-origin:13.02px 18px;transform:scale(1.0031,1.0240)">9</i><i style="left:1186.38px;top:825.8px;transform-origin:6.62px 18px;transform:scale(0.9632,1.0000)">.</i><i style="left:1198.3px;top:825.8px;transform-origin:13.75px 18px;transform:scale(1.0047,1.0240)">5</i><i style="left:1226.53px;top:825.8px;transform-origin:12.95px 18px;transform:scale(1.0647,1.0240)">2</i></span>
<span class="cell"><i class="t" style="left:1453.55px;top:825.8px">−</i><i style="left:1490.22px;top:825.8px;transform-origin:13.35px 18px;transform:scale(0.9937,1.0240)">4</i><i style="left:1517.28px;top:825.8px;transform-origin:6.62px 18px;transform:scale(0.9632,1.0000)">.</i><i style="left:1530.93px;top:825.8px;transform-origin:12.95px 18px;transform:scale(1.0647,1.0240)">2</i><i style="left:1556.7px;top:825.8px;transform-origin:13.6px 18px;transform:scale(1.0095,1.0240)">6</i></span>
<span class="cell"><i class="t" style="left:1874.65px;top:825.8px">−</i><i style="left:1910.05px;top:825.8px;transform-origin:14.23px 18px;transform:scale(1.0347,1.0240)">7</i><i style="left:1936.55px;top:825.8px;transform-origin:14.23px 18px;transform:scale(1.0347,1.0240)">7</i><i style="left:1964.88px;top:825.8px;transform-origin:6.62px 18px;transform:scale(0.9632,1.0000)">.</i><i style="left:1977.2px;top:825.8px;transform-origin:13.48px 18px;transform:scale(0.9646,1.0240)">3</i><i style="left:2003.3px;top:825.8px;transform-origin:13.75px 18px;transform:scale(1.0047,1.0240)">5</i></span>
</div>
<div class="row">
<span class="cell"><i style="left:142.41px;top:889.2px;transform-origin:15.36px 18px;transform:scale(1.0719,1.0000)">L</i><i style="left:174.23px;top:889.2px;transform-origin:14.54px 18px;transform:scale(1.0514,1.0000)">F</i><i style="left:203.67px;top:889.2px;transform-origin:17.3px 18px;transform:scale(1.0355,1.0000)">C</i><i style="left:238.8px;top:889.2px"> </i><i style="left:252.24px;top:889.2px;transform-origin:9.14px 5.25px;transform:scale(0.9980,0.9400)">(</i><i style="left:269.91px;top:889.2px;transform-origin:20.75px 18px;transform:scale(1.0143,1.0000)">m</i><i style="left:310.74px;top:889.2px;transform-origin:8.51px 5.25px;transform:scale(0.9980,0.9400)">)</i></span>
<span class="cell"><i style="left:702.93px;top:889.2px;transform-origin:12.95px 18px;transform:scale(1.0647,1.0240)">2</i><i style="left:728.7px;top:889.2px;transform-origin:13.6px 18px;transform:scale(1.0095,1.0240)">6</i><i style="left:755.44px;top:889.2px;transform-origin:13.02px 18px;transform:scale(1.0031,1.0240)">9</i><i style="left:782.43px;top:889.2px;transform-origin:12.95px 18px;transform:scale(1.0647,1.0240)">2</i></span>
<span class="cell"><i style="left:1147.03px;top:889.2px;transform-origin:12.95px 18px;transform:scale(1.0647,1.0240)">2</i><i style="left:1172.57px;top:889.2px;transform-origin:13.35px 18px;transform:scale(0.9937,1.0240)">4</i><i style="left:1199.07px;top:889.2px;transform-origin:13.35px 18px;transform:scale(0.9937,1.0240)">4</i><i style="left:1226.13px;top:889.2px;transform-origin:13.25px 18px;transform:scale(0.9499,1.0240)">8</i></span>
<span class="cell"><i style="left:1477.93px;top:889.2px;transform-origin:12.95px 18px;transform:scale(1.0647,1.0240)">2</i><i style="left:1503.94px;top:889.2px;transform-origin:13.02px 18px;transform:scale(1.0031,1.0240)">9</i><i style="left:1530.5px;top:889.2px;transform-origin:13.25px 18px;transform:scale(1.0394,1.0240)">0</i><i style="left:1555.2px;top:889.2px;transform-origin:14.23px 18px;transform:scale(1.0347,1.0240)">7</i></span>
<span class="cell"><i style="left:1925.53px;top:889.2px;transform-origin:12.95px 18px;transform:scale(1.0647,1.0240)">2</i><i style="left:1949.8px;top:889.2px;transform-origin:14.23px 18px;transform:scale(1.0347,1.0240)">7</i><i style="left:1977.2px;top:889.2px;transform-origin:13.48px 18px;transform:scale(0.9646,1.0240)">3</i><i style="left:2004.6px;top:889.2px;transform-origin:13.25px 18px;transform:scale(1.0394,1.0240)">0</i></span>
</div>
<div class="row">
<span class="cell"><i style="left:141.22px;top:954px;transform-origin:11.96px 18px;transform:scale(1.0191,1.0000)">c</i><i style="left:165.08px;top:954px;transform-origin:7.36px 18px;transform:scale(1.0005,1.0000)">l</i><i style="left:179.84px;top:954px;transform-origin:13.25px 18px;transform:scale(1.0241,1.0000)">o</i><i style="left:206.15px;top:954px;transform-origin:13.15px 18px;transform:scale(1.0003,1.0000)">u</i><i style="left:232.71px;top:954px;transform-origin:13.88px 18px;transform:scale(1.0163,1.0000)">d</i><i style="left:259.37px;top:954px"> </i><i style="left:272.24px;top:954px;transform-origin:11.96px 18px;transform:scale(1.0191,1.0000)">c</i><i style="left:296.12px;top:954px;transform-origin:13.25px 18px;transform:scale(1.0241,1.0000)">o</i><i style="left:322.54px;top:954px;transform-origin:13.25px 18px;transform:scale(0.9487,1.0000)">v</i><i style="left:349.17px;top:954px;transform-origin:11.88px 18px;transform:scale(1.0461,1.0000)">e</i><i style="left:372.57px;top:954px;transform-origin:9.12px 18px;transform:scale(1.0501,1.0000)">r</i><i style="left:390.33px;top:954px"> </i><i style="left:403.77px;top:954px;transform-origin:9.14px 5.25px;transform:scale(0.9980,0.9400)">(</i><i style="left:421.23px;top:954px;transform-origin:22.07px 18px;transform:scale(0.9573,1.0000)">%</i><i style="left:465.18px;top:954px;transform-origin:8.51px 5.25px;transform:scale(0.9980,0.9400)">)</i></span>
<span class="cell"><i style="left:754.6px;top:954px;transform-origin:13.48px 18px;transform:scale(0.9646,1.0240)">3</i><i style="left:780.2px;top:954px;transform-origin:14.23px 18px;transform:scale(1.0347,1.0240)">7</i></span>
<span class="cell"><i style="left:1199.07px;top:954px;transform-origin:13.35px 18px;transform:scale(0.9937,1.0240)">4</i><i style="left:1225.49px;top:954px;transform-origin:13.99px 18px;transform:scale(0.8772,1.0240)">1</i></span>
<span class="cell"><i style="left:1529.6px;top:954px;transform-origin:13.48px 18px;transform:scale(0.9646,1.0240)">3</i><i style="left:1556.1px;top:954px;transform-origin:13.48px 18px;transform:scale(0.9646,1.0240)">3</i></span>
<span class="cell"><i style="left:1977.2px;top:954px;transform-origin:13.48px 18px;transform:scale(0.9646,1.0240)">3</i><i style="left:2004.63px;top:954px;transform-origin:13.25px 18px;transform:scale(0.9499,1.0240)">8</i></span>
</div>
</div>
</div>
</body></html>
